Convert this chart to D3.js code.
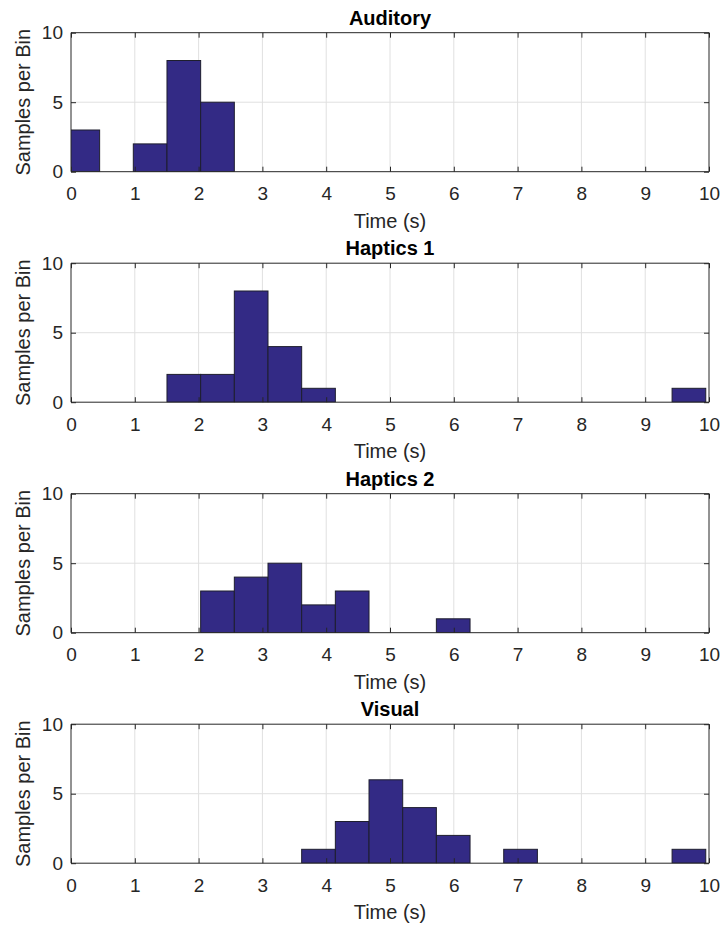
<!DOCTYPE html>
<html>
<head>
<meta charset="utf-8">
<script src="https://cdn.jsdelivr.net/npm/d3@7"></script>
<style>
  html, body { margin: 0; padding: 0; background: #fff; }
  svg { display: block; font-family: "Liberation Sans", Arial, Helvetica, sans-serif; }
</style>
</head>
<body>
<svg id="chart" width="722" height="926"></svg>
<script>
// ---- data ----
const titles = ["Auditory", "Haptics 1", "Haptics 2", "Visual"];
const binStart = -0.079;
const binWidth = 0.5278;
const auditoryCounts = [3,0,2,8,5,0,0,0,0,0,0,0,0,0,0,0,0,0,0];
const haptics1Counts = [0,0,0,2,2,8,4,1,0,0,0,0,0,0,0,0,0,0,1];
const haptics2Counts = [0,0,0,0,3,4,5,2,3,0,0,1,0,0,0,0,0,0,0];
const visualCounts   = [0,0,0,0,0,0,0,1,3,6,4,2,0,1,0,0,0,0,1];
const xTicks = [0,1,2,3,4,5,6,7,8,9,10];
const yTicks = [0,5,10];
const xLabel = "Time (s)";
const yLabel = "Samples per Bin";

const series = [auditoryCounts, haptics1Counts, haptics2Counts, visualCounts];

// ---- layout ----
const svg = d3.select("#chart");
const left = 71, right = 709;
const top0 = 32.7, step = 230.5, plotH = 139;
const axisColor = "#262626";
const barFill = "#332a85";
const barStroke = "#1e1e2e";

const x = d3.scaleLinear().domain([0, 10]).range([left, right]);

series.forEach((counts, i) => {
  const top = top0 + i * step;
  const bottom = top + plotH;
  const y = d3.scaleLinear().domain([0, 10]).range([bottom, top]);
  const g = svg.append("g");

  g.append("defs").append("clipPath").attr("id", "clip" + i)
    .append("rect").attr("x", left).attr("y", top - 1)
    .attr("width", right - left).attr("height", plotH + 1);

  // grid
  g.append("g").selectAll("line.gx").data(xTicks.slice(1, -1)).join("line")
    .attr("x1", d => x(d)).attr("x2", d => x(d))
    .attr("y1", top).attr("y2", bottom)
    .attr("stroke", "#e0e0e0").attr("stroke-width", 1);
  g.append("g").selectAll("line.gy").data(yTicks.slice(1, -1)).join("line")
    .attr("y1", d => y(d)).attr("y2", d => y(d))
    .attr("x1", left).attr("x2", right)
    .attr("stroke", "#e0e0e0").attr("stroke-width", 1);

  // bars
  const bins = counts.map((c, k) => ({ x0: binStart + k * binWidth, x1: binStart + (k + 1) * binWidth, c }))
    .filter(b => b.c > 0);
  g.append("g").attr("clip-path", `url(#clip${i})`)
    .selectAll("rect").data(bins).join("rect")
    .attr("x", d => x(d.x0)).attr("width", d => x(d.x1) - x(d.x0))
    .attr("y", d => y(d.c)).attr("height", d => y(0) - y(d.c))
    .attr("fill", barFill).attr("stroke", barStroke).attr("stroke-width", 1);

  // axes
  const xAxisB = d3.axisBottom(x).tickValues(xTicks).tickSize(-5).tickPadding(15).tickFormat(d3.format("d"));
  const xAxisT = d3.axisTop(x).tickValues(xTicks).tickSize(-5).tickFormat("");
  const yAxisL = d3.axisLeft(y).tickValues(yTicks).tickSize(-5).tickPadding(8).tickFormat(d3.format("d"));
  const yAxisR = d3.axisRight(y).tickValues(yTicks).tickSize(-5).tickFormat("");

  const styleAxis = sel => {
    sel.selectAll("path").attr("stroke", axisColor).attr("stroke-width", 1);
    sel.selectAll("line").attr("stroke", axisColor).attr("stroke-width", 1);
    sel.selectAll("text").attr("fill", axisColor).style("font-size", "19px")
      .style("font-family", '"Liberation Sans", Arial, sans-serif');
  };

  g.append("g").attr("transform", `translate(0,${bottom})`).call(xAxisB).call(styleAxis)
    .call(s => s.select(".domain").attr("d", `M${left},0H${right}`));
  g.append("g").attr("transform", `translate(0,${top})`).call(xAxisT).call(styleAxis)
    .call(s => s.select(".domain").attr("d", `M${left},0H${right}`));
  g.append("g").attr("transform", `translate(${left},0)`).call(yAxisL).call(styleAxis)
    .call(s => s.select(".domain").attr("d", `M0,${top}V${bottom}`));
  g.append("g").attr("transform", `translate(${right},0)`).call(yAxisR).call(styleAxis)
    .call(s => s.select(".domain").attr("d", `M0,${top}V${bottom}`));

  // labels
  g.append("text").attr("x", (left + right) / 2).attr("y", bottom + 56)
    .attr("text-anchor", "middle").attr("fill", axisColor)
    .style("font-size", "20px").text(xLabel);
  g.append("text").attr("transform", `translate(30,${(top + bottom) / 2}) rotate(-90)`)
    .attr("text-anchor", "middle").attr("fill", axisColor)
    .style("font-size", "20px").text(yLabel);
  g.append("text").attr("x", (left + right) / 2).attr("y", top - 8)
    .attr("text-anchor", "middle").attr("fill", "#000")
    .style("font-size", "20px").style("font-weight", "bold").text(titles[i]);
});
</script>
</body>
</html>
